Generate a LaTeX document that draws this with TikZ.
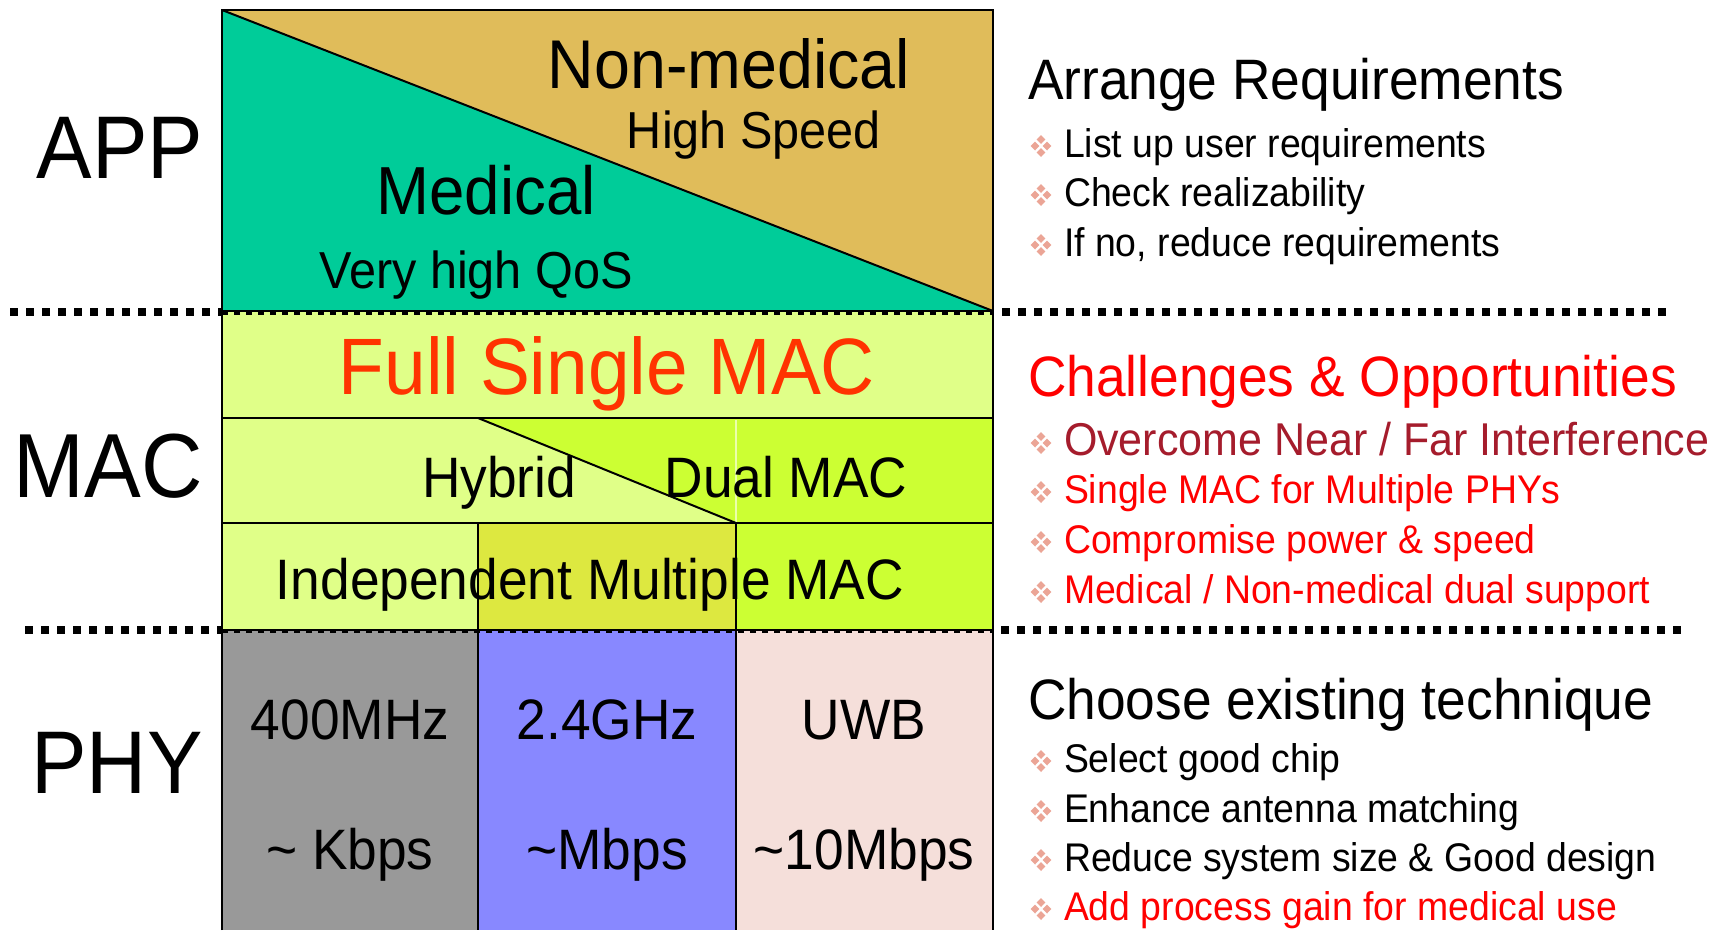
\documentclass[tikz,border=0pt]{standalone}
\usepackage{fontspec}
\setmainfont[FakeStretch=0.935]{Liberation Sans}
\newcommand{\fsz}[1]{\fontsize{#1}{#1}\selectfont}
\definecolor{goldc}{RGB}{224,188,90}
\definecolor{tealc}{RGB}{0,204,153}
\definecolor{lightg}{RGB}{224,255,136}
\definecolor{brightg}{RGB}{204,255,51}
\definecolor{oliveg}{RGB}{221,232,64}
\definecolor{grayc}{RGB}{153,153,153}
\definecolor{bluec}{RGB}{136,136,255}
\definecolor{pinkc}{RGB}{245,223,218}
\definecolor{fullred}{RGB}{255,51,0}
\definecolor{txtred}{RGB}{255,0,0}
\definecolor{darkred}{RGB}{165,28,44}
\definecolor{bulcol}{RGB}{235,165,150}
\definecolor{faintc}{RGB}{235,255,170}
\begin{document}
\begin{tikzpicture}[x=1pt,y=-1pt,
  every node/.style={inner sep=0pt, outer sep=0pt},
  lbl/.style={anchor=base},
  itm/.style={anchor=base west},
  dotline/.style={line width=8pt, dash pattern=on 8pt off 8pt},
  boxline/.style={line width=2pt, black},
  innerdash/.style={line width=4pt, dash pattern=on 6pt off 6pt},
  bulletpic/.pic={
    \foreach \dx/\dy in {0/-6.5,-6/0,6/0,0/6.5}
      \fill[bulcol] (\dx,\dy) +(0,-4.5) -- +(4.3,0) -- +(0,4.5) -- +(-4.3,0) -- cycle;
  }]
\useasboundingbox (0,0) rectangle (1724,930);

% dotted separators
\draw[dotline] (10,312) -- (1667,312);
\draw[dotline] (25,630) -- (1682,630);

% APP region
\fill[goldc] (222,10) rectangle (993,311);
\fill[tealc] (222,10) -- (993,311) -- (222,311) -- cycle;
\draw[boxline] (222,10) -- (993,311);

% MAC region
\fill[lightg] (222,311) rectangle (993,418);
\fill[lightg] (222,418) rectangle (993,523);
\fill[brightg] (478,418) -- (993,418) -- (993,523) -- (736,523) -- cycle;
\draw[faintc, line width=1.5pt] (736,420) -- (736,522);
\draw[boxline] (478,418) -- (736,523);
\fill[lightg] (222,523) rectangle (478,630);
\fill[oliveg] (478,523) rectangle (736,630);
\fill[brightg] (736,523) rectangle (993,630);

% PHY region
\fill[grayc] (222,630) rectangle (478,930);
\fill[bluec] (478,630) rectangle (736,930);
\fill[pinkc] (736,630) rectangle (993,930);

% borders
\draw[boxline] (222,930) -- (222,10) -- (993,10) -- (993,930);
\draw[boxline] (222,311) -- (993,311);
\draw[boxline] (222,418) -- (993,418);
\draw[boxline] (222,523) -- (993,523);
\draw[boxline] (222,630) -- (993,630);
\draw[boxline] (478,523) -- (478,930);
\draw[boxline] (736,523) -- (736,930);
\draw[innerdash] (222,313) -- (993,313);
\draw[innerdash] (222,631) -- (993,631);

% layer labels
\node[lbl] (app) at (120,178) {\fsz{89pt}APP};
\node[lbl] (mac) at (108,497) {\fsz{91pt}MAC};
\node[lbl] (phy) at (117,793) {\fsz{89pt}PHY};

% APP texts
\node[lbl] (nonmed) at (729,88) {\fsz{69pt}Non-medical};
\node[lbl] (hispeed) at (754,148) {\fsz{52pt}High Speed};
\node[lbl] (med) at (486,214) {\fsz{68pt}Medical};
\node[lbl] (qos) at (476,288) {\fsz{52pt}Very high QoS};

% MAC texts
\node[lbl, text=fullred] (full) at (607,394) {\fsz{80pt}Full Single MAC};
\node[lbl] (hybrid) at (499,497) {\fsz{57pt}Hybrid};
\node[lbl] (dual) at (786,497) {\fsz{57pt}Dual MAC};
\node[lbl] (indep) at (590,599) {\fsz{57pt}Independent Multiple MAC};

% PHY texts
\node[lbl] (f1) at (350,739) {\fsz{57pt}400MHz};
\node[lbl] (f2) at (607,739) {\fsz{57pt}2.4GHz};
\node[lbl] (f3) at (864,739) {\fsz{57pt}UWB};
\node[lbl] (r1) at (350,869) {\fsz{57pt}\char`\~\ Kbps};
\node[lbl] (r2) at (607,869) {\fsz{57pt}\char`\~Mbps};
\node[lbl] (r3) at (864,869) {\fsz{57pt}\char`\~10Mbps};

% right column: APP
\node[itm] (h1) at (1028,99) {\fsz{57pt}Arrange Requirements};
\pic at (1041,146) {bulletpic};
\node[itm] (a1) at (1064,157) {\fsz{40pt}List up user requirements};
\pic at (1041,195) {bulletpic};
\node[itm] (a2) at (1064,206) {\fsz{40pt}Check realizability};
\pic at (1041,245) {bulletpic};
\node[itm] (a3) at (1064,256) {\fsz{40pt}If no, reduce requirements};

% right column: MAC
\node[itm, text=txtred] (h2) at (1028,396) {\fsz{57pt}Challenges \& Opportunities};
\pic at (1041,443) {bulletpic};
\node[itm, text=darkred] (m1) at (1064,455) {\fsz{46pt}Overcome Near / Far Interference};
\pic at (1041,492) {bulletpic};
\node[itm, text=txtred] (m2) at (1064,503) {\fsz{40pt}Single MAC for Multiple PHYs};
\pic at (1041,542) {bulletpic};
\node[itm, text=txtred] (m3) at (1064,553) {\fsz{40pt}Compromise power \& speed};
\pic at (1041,592) {bulletpic};
\node[itm, text=txtred] (m4) at (1064,603) {\fsz{40pt}Medical / Non-medical dual support};

% right column: PHY
\node[itm] (h3) at (1028,719) {\fsz{57pt}Choose existing technique};
\pic at (1041,761) {bulletpic};
\node[itm] (p1) at (1064,772) {\fsz{40pt}Select good chip};
\pic at (1041,811) {bulletpic};
\node[itm] (p2) at (1064,822) {\fsz{40pt}Enhance antenna matching};
\pic at (1041,860) {bulletpic};
\node[itm] (p3) at (1064,871) {\fsz{40pt}Reduce system size \& Good design};
\pic at (1041,909) {bulletpic};
\node[itm, text=txtred] (p4) at (1064,920) {\fsz{40pt}Add process gain for medical use};
\end{tikzpicture}
\end{document}
